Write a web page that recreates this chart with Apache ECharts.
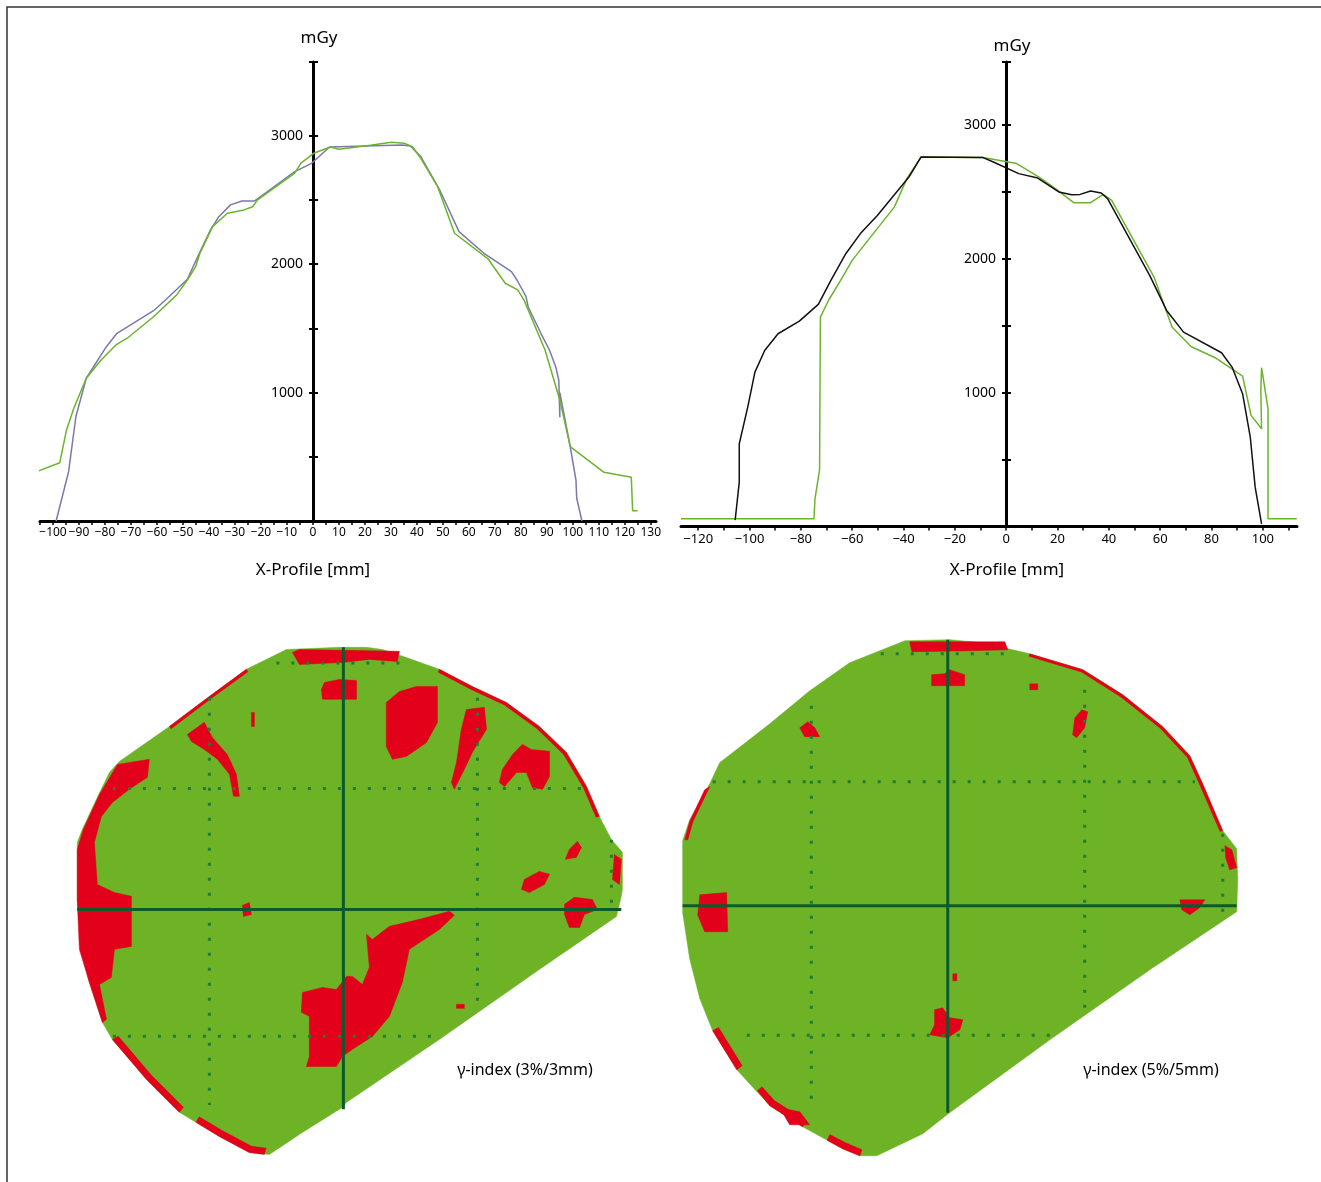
<!DOCTYPE html>
<html>
<head>
<meta charset="utf-8">
<script src="https://cdn.jsdelivr.net/npm/echarts@6/dist/echarts.min.js"></script>
<style>html,body{margin:0;padding:0;background:#fff}#chart{width:1321px;height:1182px}</style>
</head>
<body>
<div id="chart"></div>
<script>
// ---------- Profile data: [X position (mm), dose (mGy)] ----------
const leftProfilePurple = [[-98.8,0],[-94.0,384],[-91.2,812],[-87.2,1112],[-79.9,1345],[-75.4,1462],[-61.3,1638],[-56.4,1727],[-48.3,1883],[-44.3,2059],[-39.4,2267],[-36.2,2370],[-31.7,2462],[-27.3,2493],[-22.4,2493],[-16.7,2578],[-7.0,2721],[-0.5,2786],[6.4,2913],[34.2,2929],[37.5,2921],[41.5,2838],[48.8,2578],[56.2,2254],[65.8,2085],[76.4,1942],[78.5,1877],[82.0,1747],[82.8,1669],[87.7,1462],[91.0,1332],[93.4,1202],[94.6,1098],[95.0,808],[95.0,1000],[99.0,579],[101.2,319],[101.5,177],[103.5,0]];
const leftProfileGreen = [[-106.9,379],[-97.4,454],[-94.8,709],[-92.0,878],[-87.2,1112],[-81.5,1254],[-75.8,1371],[-71.0,1431],[-61.3,1591],[-52.4,1761],[-48.3,1877],[-45.1,1981],[-43.5,2085],[-38.6,2293],[-32.9,2397],[-26.5,2423],[-23.2,2448],[-21.3,2501],[-7.0,2709],[-4.6,2787],[0.3,2864],[6.7,2913],[10.0,2896],[22.1,2927],[30.2,2950],[35.1,2942],[38.3,2916],[41.5,2825],[48.0,2604],[54.5,2241],[67.5,2039],[74.0,1852],[78.8,1800],[81.2,1722],[89.3,1332],[95.0,943],[99.0,579],[112.0,379],[122.5,340],[123.0,80],[124.9,80]];
const rightProfileBlack = [[-105.6,48],[-104.0,331],[-104.0,618],[-100.7,892],[-97.9,1153],[-94.1,1315],[-88.9,1440],[-80.6,1534],[-73.2,1659],[-68.3,1839],[-62.5,2038],[-56.8,2188],[-50.2,2324],[-37.9,2611],[-33.2,2760],[-9.0,2756],[-5.0,2723],[4.9,2636],[12.3,2603],[20.5,2499],[25.5,2479],[28.8,2481],[32.9,2506],[37.0,2491],[39.5,2449],[55.9,1876],[60.0,1714],[62.5,1614],[69.1,1452],[83.9,1298],[88.0,1191],[92.1,992],[95.1,667],[97.0,294],[99.5,20]];
const rightProfileGreen = [[-126.7,58],[-74.9,58],[-74.5,207],[-72.7,424],[-72.4,1564],[-69.1,1694],[-64.5,1839],[-60.0,1988],[-51.8,2188],[-43.6,2386],[-38.7,2599],[-33.2,2760],[-9.0,2756],[4.1,2711],[13.1,2606],[19.7,2516],[26.3,2419],[32.9,2419],[37.8,2481],[41.1,2437],[57.6,1863],[64.6,1490],[72.0,1345],[81.4,1261],[92.1,1123],[95.4,830],[99.5,730],[99.2,1016],[99.5,1186],[102.0,880],[102.0,58],[113.2,58]];

// ---------- Tick values ----------
const leftXLabels = [-100,-90,-80,-70,-60,-50,-40,-30,-20,-10,0,10,20,30,40,50,60,70,80,90,100,110,120,130];
const leftXTicks = [-105,-100,-95,-90,-85,-80,-75,-70,-65,-60,-55,-50,-45,-40,-35,-30,-25,-20,-15,-10,-5,0,5,10,15,20,25,30,35,40,45,50,55,60,65,70,75,80,85,90,95,100,105,110,115,120,125,130];
const rightXLabels = [-120,-100,-80,-60,-40,-20,0,20,40,60,80,100];
const rightXTicks = [-120,-110,-100,-90,-80,-70,-60,-50,-40,-30,-20,-10,0,10,20,30,40,50,60,70,80,90,100,110];
const doseLabels = [1000,2000,3000];
const leftDoseTicks = [500,1000,1500,2000,2500,3000,3575];
const rightDoseTicks = [500,1000,1500,2000,2500,3000,3470];

// ---------- Gamma maps: polygons in mm (origin = crosshair) ----------
const leftField = [[-21.3,97.0],[-1.5,97.8],[8.6,97.8],[14.6,97.0],[23.5,94.0],[35.8,89.6],[48.1,83.2],[60.8,77.2],[73.1,68.3],[83.2,58.6],[90.7,45.9],[95.5,34.7],[100.0,26.1],[104.1,21.3],[104.1,7.5],[103.7,4.9],[101.9,-2.6],[73.1,-22.4],[35.8,-48.5],[1.1,-72.0],[-0.4,-73.9],[-15.3,-83.2],[-27.6,-91.4],[-35.1,-90.7],[-46.3,-84.7],[-61.2,-75.7],[-73.5,-63.4],[-86.2,-48.5],[-89.9,-42.2],[-94.8,-27.2],[-97.8,-14.9],[-99.3,3.7],[-99.3,25.0],[-97.4,29.9],[-92.2,41.0],[-87.3,51.1],[-83.6,55.2],[-64.9,68.3],[-50.0,79.5],[-36.2,89.6]];
const leftFails = [
  [[-19.0,95.9],[-16.4,97.0],[20.9,96.3],[20.1,92.5],[9.7,93.3],[0.4,92.2],[-16.4,91.4]],
  [[-7.1,84.7],[-1.5,85.8],[4.9,85.4],[4.9,78.4],[-7.8,78.4],[-8.2,82.1]],
  [[-34.3,73.5],[-33.2,73.5],[-33.2,68.3],[-34.3,68.3]],
  [[-58.2,65.3],[-51.9,69.8],[-48.9,64.2],[-43.3,57.8],[-39.9,50.4],[-38.8,42.2],[-41.0,42.2],[-42.5,50.4],[-47.0,56.0],[-51.9,59.7],[-56.7,62.7]],
  [[-72.4,56.0],[-84.3,54.1],[-91.0,42.9],[-97.0,29.9],[-99.3,22.4],[-99.3,3.7],[-98.5,-14.9],[-94.8,-27.2],[-89.9,-42.2],[-88.4,-41.0],[-91.0,-28.0],[-86.6,-25.4],[-85.4,-14.9],[-79.1,-13.8],[-79.1,4.9],[-85.4,6.3],[-91.8,9.3],[-92.9,25.0],[-90.3,34.7],[-86.2,39.9],[-79.9,44.8],[-73.1,49.3]],
  [[-86.2,-48.5],[-73.5,-63.4],[-61.2,-75.7],[-59.7,-73.8],[-71.7,-61.8],[-84.0,-47.3]],
  [[-55.0,-79.4],[-46.3,-84.7],[-35.1,-90.7],[-29.5,-91.4],[-28.8,-89.1],[-34.2,-88.4],[-45.1,-82.6],[-53.8,-77.4]],
  [[-15.3,-31.0],[-7.8,-29.1],[-2.6,-29.9],[1.1,-25.0],[3.4,-25.0],[7.1,-28.0],[9.7,-21.6],[8.6,-9.3],[10.8,-11.2],[17.2,-6.3],[28.4,-3.7],[39.6,-0.7],[41.4,-2.2],[35.8,-7.5],[24.6,-14.9],[22.0,-27.2],[17.2,-39.9],[10.8,-47.4],[3.4,-52.2],[-0.4,-54.9],[-2.6,-58.6],[-13.8,-58.6],[-12.7,-54.9],[-12.7,-39.9],[-15.7,-38.4]],
  [[-37.7,1.5],[-35.1,2.6],[-34.3,-1.9],[-37.3,-2.6]],
  [[42.2,-35.4],[45.1,-35.4],[45.1,-36.9],[42.2,-36.9]],
  [[82.5,1.9],[86.2,4.5],[92.9,3.7],[94.8,0],[89.9,-1.9],[88.1,-6.7],[84.3,-6.7],[82.5,-1.9]],
  [[16.0,77.2],[20.9,81.3],[27.2,83.2],[35.1,83.2],[35.1,69.8],[31.0,62.3],[23.5,57.1],[18.3,56.0],[16.0,60.8]],
  [[45.9,74.6],[52.6,75.4],[53.4,67.2],[48.1,58.6],[45.1,52.2],[41.4,44.8],[40.3,47.4],[42.2,54.9],[44.0,67.2]],
  [[59.3,52.2],[63.1,57.8],[66.8,61.6],[70.1,59.7],[76.9,59.0],[76.9,49.6],[74.3,44.8],[70.5,45.5],[68.3,51.1],[64.6,51.1],[60.1,45.9],[58.2,47.4]],
  [[35.8,89.6],[48.1,83.2],[60.8,77.2],[73.1,68.3],[83.2,58.6],[90.7,45.9],[95.5,34.7],[94.3,34.4],[89.6,45.3],[82.2,57.8],[72.3,67.4],[60.1,76.3],[47.5,82.2],[35.4,88.5]],
  [[84.3,22.4],[87.3,25.4],[88.8,23.1],[86.9,19.4],[82.8,18.7]],
  [[67.5,11.2],[73.1,14.2],[76.9,13.1],[75.0,9.3],[69.4,6.3],[66.4,7.5]],
  [[101.1,20.5],[103.7,18.7],[103.0,9.3],[100.4,11.2]],
  [[-64.9,68.3],[-50.0,79.5],[-36.2,89.6],[-35.6,88.7],[-49.5,78.6],[-64.3,67.4]]
];
const leftGuides = [
  [[-50,79],[-50,-73]], [[50,79],[50,-38]], [[-86,45.1],[93,45.1]],
  [[-86,-47.3],[36,-47.3]], [[-25,92],[24,92]], [[100,26],[100,1]]
];
const leftCross = [ [[-99.3,0],[103.7,0]], [[0,97.8],[0,-74.6]] ];

const rightField = [[-16.0,98.9],[0.7,99.3],[13.1,98.1],[30.6,94.0],[50.4,88.1],[65.3,78.7],[80.2,66.8],[90.3,56.0],[95.1,45.5],[102.6,28.0],[107.8,21.3],[108.2,9.7],[107.8,-2.2],[75.4,-23.9],[38.1,-50.0],[0.7,-77.2],[-9.3,-85.1],[-26.5,-93.3],[-32.8,-93.3],[-39.2,-90.7],[-54.1,-82.5],[-66.4,-74.6],[-78.7,-61.2],[-87.7,-46.6],[-92.5,-34.7],[-96.3,-19.8],[-98.9,-2.6],[-98.9,13.4],[-98.9,24.3],[-96.3,32.1],[-88.8,45.5],[-85.1,53.4],[-66.4,67.9],[-51.5,80.2],[-36.6,90.7]];
const rightFails = [
  [[-14.2,98.5],[21.3,98.5],[22.4,95.5],[4.5,95.1],[-13.4,94.8]],
  [[-6.0,86.2],[-1.1,86.6],[0.7,88.1],[6.3,86.2],[6.3,82.1],[-6.0,82.1]],
  [[-55.2,66.4],[-52.2,68.7],[-49.6,66.4],[-47.8,63.1],[-53.4,63.1]],
  [[30.6,82.8],[33.6,82.8],[33.6,80.6],[30.6,80.6]],
  [[47.4,70.1],[50.0,73.1],[52.2,72.4],[51.1,66.4],[48.1,62.7],[46.6,63.8]],
  [[30.6,94.0],[50.4,88.1],[65.3,78.7],[80.2,66.8],[90.3,56.0],[95.1,45.5],[102.6,28.0],[101.6,27.7],[94.1,45.0],[89.4,55.4],[79.4,66.1],[64.6,77.9],[49.9,87.2],[30.3,93.1]],
  [[103.4,22.4],[106.0,20.9],[107.8,14.2],[105.2,13.4],[103.7,17.9]],
  [[86.6,2.2],[95.9,2.2],[94.0,-0.7],[90.3,-3.4],[87.3,-1.5]],
  [[-92.5,4.1],[-82.5,4.9],[-82.1,-9.7],[-90.7,-9.7],[-93.3,-3.4]],
  [[-4.9,-38.8],[-1.9,-38.1],[0.7,-41.8],[5.6,-42.5],[4.5,-46.3],[0,-49.3],[-6.7,-48.1],[-4.9,-44.4]],
  [[1.9,-25.4],[3.4,-25.4],[3.4,-28.0],[1.9,-28.0]],
  [[-88.8,44.4],[-90.7,43.3],[-96.3,31.3],[-98.1,24.6],[-97.0,24.6],[-95.1,31.3],[-89.9,42.2]],
  [[-87.7,-46.6],[-78.7,-61.2],[-76.7,-59.7],[-85.5,-45.4]],
  [[-71.0,-69.0],[-66.4,-74.6],[-54.1,-82.5],[-52.7,-80.4],[-64.7,-72.7],[-69.3,-67.5]],
  [[-45.0,-87.5],[-39.2,-90.7],[-32.8,-93.3],[-32.0,-91.0],[-38.2,-88.4],[-44.0,-85.4]],
  [[-62.7,-75.4],[-55.2,-76.9],[-51.5,-81.7],[-59.0,-81.7]]
];
const rightGuides = [
  [[-50.9,74.6],[-50.9,-74.6]], [[51.1,80.6],[51.1,-39.2]], [[-87.7,46.3],[92.2,46.3]],
  [[-75,-48.3],[41.8,-48.3]], [[-25,94],[23,94]], [[102.6,26.9],[102.6,-3.7]]
];
const rightCross = [ [[-98.9,0],[107.8,0]], [[0,99.3],[0,-77.2]] ];

// ---------- Styles ----------
const FONT = '"Noto Sans", "Open Sans", sans-serif';
const GREEN_LINE = '#6cb42c', PURPLE = '#7a79aa', FIELD = '#6db325', FAIL = '#e2001a';
const GUIDE = '#1f7d35', CROSS = '#0b5a2b';
const minusFmt = v => (v < 0 ? '\u2212' + Math.abs(v) : String(v));

function xProfileAxis(grid, min, max, labels, ticks, fs) {
  return {
    type: 'value', gridIndex: grid, min: min, max: max, position: 'bottom',
    axisLine: { show: true, onZero: false, lineStyle: { color: '#000', width: 3 } },
    axisTick: { show: true, customValues: ticks, length: 4, lineStyle: { color: '#000', width: 1.5 } },
    axisLabel: { customValues: labels, formatter: minusFmt, fontSize: fs, fontFamily: FONT, color: '#000', margin: 6 },
    splitLine: { show: false }
  };
}
function yDoseAxis(grid, max, ticks, pos, withLabels, nameGap) {
  const ax = {
    type: 'value', gridIndex: grid, min: 0, max: max, position: pos,
    axisLine: { show: withLabels, onZero: false, lineStyle: { color: '#000', width: 3 } },
    axisTick: { show: true, customValues: ticks, length: 4, lineStyle: { color: '#000', width: 2 } },
    axisLabel: { show: withLabels, customValues: doseLabels, formatter: v => String(v), fontSize: 14, fontFamily: FONT, color: '#000', margin: 10 },
    splitLine: { show: false }
  };
  if (withLabels) {
    ax.name = 'mGy'; ax.nameLocation = 'end'; ax.nameGap = nameGap;
    ax.nameTextStyle = { fontSize: 17, fontFamily: FONT, color: '#000', align: 'center', padding: [0, 0, 0, 12] };
  }
  return ax;
}
function hiddenAxis(grid, min, max) {
  return { type: 'value', gridIndex: grid, min: min, max: max, show: false };
}
function lineSeries(data, color, xi, yi) {
  return { type: 'line', xAxisIndex: xi, yAxisIndex: yi, data: data, showSymbol: false, symbol: 'none',
           clip: false, lineStyle: { color: color, width: 1.5 }, silent: true, z: 3 };
}
function polySeries(polys, color, xi, yi, z) {
  return {
    type: 'custom', xAxisIndex: xi, yAxisIndex: yi, silent: true, z: z,
    data: polys.map((p, i) => [i, 0]),
    renderItem: function (params, api) {
      const poly = polys[api.value(0)];
      return { type: 'polygon', shape: { points: poly.map(pt => api.coord(pt)) },
               style: { fill: color, stroke: color, lineWidth: 0.5 } };
    }
  };
}
function segSeries(segs, style, xi, yi, z) {
  return segs.map(seg => ({ type: 'line', xAxisIndex: xi, yAxisIndex: yi, data: seg, showSymbol: false,
    symbol: 'none', silent: true, z: z, lineStyle: style }));
}

const chart = echarts.init(document.getElementById('chart'), null, { renderer: 'canvas' });
const dotted = { color: GUIDE, width: 3, type: [3, 12] };
const solid = { color: CROSS, width: 3 };
const nb = { outerBoundsMode: 'none', containLabel: false };

chart.setOption({
  animation: false,
  backgroundColor: '#fff',
  grid: [
    Object.assign({ left: 40, top: 62, width: 616, height: 459 }, nb),
    Object.assign({ left: 681, top: 62, width: 616, height: 464.5 }, nb),
    Object.assign({ left: 70, top: 620, width: 580, height: 560 }, nb),
    Object.assign({ left: 669, top: 619, width: 580, height: 560 }, nb),
    Object.assign({ left: 313, top: 62, width: 1, height: 459 }, nb),
    Object.assign({ left: 1006, top: 62, width: 1, height: 464.5 }, nb)
  ],
  xAxis: [
    xProfileAxis(0, -105, 132, leftXLabels, leftXTicks, 12),
    xProfileAxis(1, -126.7, 113.3, rightXLabels, rightXTicks, 13),
    hiddenAxis(2, -102, 114.4),
    hiddenAxis(3, -104, 112.4),
    hiddenAxis(4, 0, 1),
    hiddenAxis(5, 0, 1)
  ],
  yAxis: [
    hiddenAxis(0, 0, 3575),
    hiddenAxis(1, 0, 3470),
    hiddenAxis(2, -100.96, 108),
    hiddenAxis(3, -101.96, 107),
    yDoseAxis(4, 3575, leftDoseTicks, 'left', true, 15),
    yDoseAxis(4, 3575, leftDoseTicks, 'right', false, 0),
    yDoseAxis(5, 3470, rightDoseTicks, 'left', true, 7),
    yDoseAxis(5, 3470, rightDoseTicks, 'right', false, 0)
  ],
  graphic: [
    { type: 'rect', shape: { x: 7, y: 7, width: 1340, height: 1200 }, style: { fill: 'none', stroke: '#333', lineWidth: 1.5 }, silent: true },
    { type: 'text', x: 313, y: 570, style: { text: 'X-Profile [mm]', fontSize: 17, fontFamily: FONT, fill: '#000', align: 'center', verticalAlign: 'middle' } },
    { type: 'text', x: 1007, y: 570, style: { text: 'X-Profile [mm]', fontSize: 17, fontFamily: FONT, fill: '#000', align: 'center', verticalAlign: 'middle' } },
    { type: 'text', x: 525, y: 1070, style: { text: '\u03b3-index (3%/3mm)', fontSize: 16, fontFamily: FONT, fill: '#000', align: 'center', verticalAlign: 'middle' } },
    { type: 'text', x: 1151, y: 1070, style: { text: '\u03b3-index (5%/5mm)', fontSize: 16, fontFamily: FONT, fill: '#000', align: 'center', verticalAlign: 'middle' } }
  ],
  series: [
    lineSeries(leftProfilePurple, PURPLE, 0, 0),
    lineSeries(leftProfileGreen, GREEN_LINE, 0, 0),
    lineSeries(rightProfileGreen, GREEN_LINE, 1, 1),
    lineSeries(rightProfileBlack, '#111', 1, 1),
    polySeries([leftField], FIELD, 2, 2, 1),
    polySeries(leftFails, FAIL, 2, 2, 2),
    ...segSeries(leftGuides, dotted, 2, 2, 3),
    ...segSeries(leftCross, solid, 2, 2, 4),
    polySeries([rightField], FIELD, 3, 3, 1),
    polySeries(rightFails, FAIL, 3, 3, 2),
    ...segSeries(rightGuides, dotted, 3, 3, 3),
    ...segSeries(rightCross, solid, 3, 3, 4)
  ]
});
</script>
</body>
</html>
